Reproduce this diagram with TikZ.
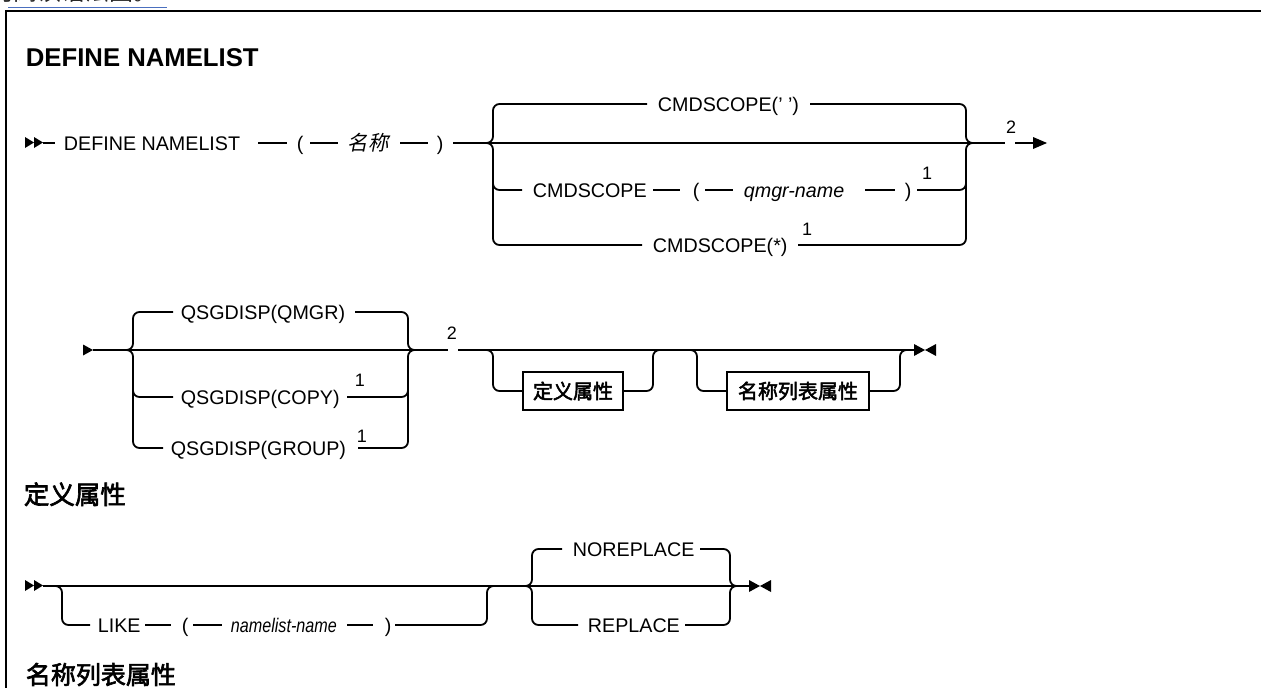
\documentclass[tikz,border=0pt]{standalone}
\usepackage{fontspec}
\setmainfont{Liberation Sans}
\newfontfamily\cjk{Noto Sans CJK SC}
\newfontfamily\cjkit{Noto Sans CJK SC}[FakeSlant=0.2]
\newfontfamily\cjkbf{Noto Sans CJK SC}[FakeBold=2.5]
\newcommand\regf{\fontsize{19.7}{22}\selectfont}
\definecolor{linkblue}{HTML}{4A6FBF}
\tikzset{
  rc/.style={rounded corners=6.5pt},
  tok/.style={anchor=base west, inner sep=0pt, font=\regf},
  itok/.style={anchor=base west, inner sep=0pt, font=\regf\itshape},
  sup/.style={anchor=center, inner sep=0pt, font=\fontsize{18}{20}\selectfont},
  rbox/.style={draw, line width=1.6pt, minimum height=38pt, inner sep=0pt, font=\cjkbf\fontsize{20}{22}\selectfont},
  head/.style={anchor=base west, inner sep=0pt},
  tip/.style={fill=black, draw=none}
}
\begin{document}
\begin{tikzpicture}[x=1pt, y=-1pt, line width=1.8pt]
\useasboundingbox (0,0) rectangle (1261,688);
\clip (0,0) rectangle (1261,688);

% clipped link text at top
\node[head, font=\cjk\fontsize{24}{24}\selectfont, text=black!85] (lnk) at (-11,1) {何阅读语法图。};
\draw[linkblue, line width=1pt] (8,7) -- (167,7);

% frame
\draw[line width=2.6pt] (6,720) -- (6,11) -- (1280,11);

% title
\node[head, font=\bfseries\fontsize{25.7}{28}\selectfont] (title) at (25,66) {DEFINE NAMELIST};

% ---------------- Row 1 ----------------
\fill[tip] (25,137) -- (34,142.5) -- (25,148) -- cycle;
\fill[tip] (34,137) -- (43,142.5) -- (34,148) -- cycle;
\draw (43,143) -- (55,143);
\node[tok] (dn) at (63,150) {DEFINE NAMELIST};
\draw (258,143) -- (287,143);
\node[tok] (lp1) at (296,150) {(};
\draw (310,143) -- (338,143);
\node[anchor=base west, inner sep=0pt, font=\cjkit\fontsize{20.5}{22}\selectfont] (mc) at (347,150.5) {名称};
\draw (400,143) -- (428,143);
\node[tok] (rp1) at (436,150) {)};
\draw (453,143) -- (1005,143);
% top choice
\draw[rc] (485,143) -| (493,104) -- (647,104);
\node[tok] (cs1) at (657,111) {CMDSCOPE(' ')};
\draw[rc] (810,104) -| (966,143) -- (974,143);
% qmgr choice
\draw[rc] (493,172) |- (522,190);
\node[tok] (cs2) at (532,197) {CMDSCOPE};
\draw (653,190) -- (680,190);
\node[tok] (lp2) at (692,197) {(};
\draw (705,190) -- (733,190);
\node[itok] (qn) at (743,197) {qmgr-name};
\draw (865,190) -- (895,190);
\node[tok] (rp2) at (904,197) {)};
\draw[rc] (917,190) -| (966,172);
\node[sup] (n1a) at (927,173) {1};
% star choice
\draw[rc] (485,143) -| (493,245) -- (642,245);
\node[tok] (cs3) at (652,252) {CMDSCOPE(*)};
\node[sup] (n1b) at (807,229) {1};
\draw[rc] (798,245) -| (966,143) -- (974,143);
% end of row 1
\node[sup] (n2a) at (1011,127) {2};
\draw (1015,143) -- (1034,143);
\fill[tip] (1033,137) -- (1047,143) -- (1033,149) -- cycle;

% ---------------- Row 2 ----------------
\fill[tip] (83,344.5) -- (93,350) -- (83,355.5) -- cycle;
\draw (93,350) -- (448,350);
\draw[rc] (126,350) -| (133,312) -- (173,312);
\node[tok] (q1) at (180,319) {QSGDISP(QMGR)};
\draw[rc] (355,312) -| (408,350) -- (415,350);
\draw[rc] (133,382) |- (173,397);
\node[tok] (q2) at (180,404) {QSGDISP(COPY)};
\draw[rc] (347,397) -| (408,382);
\node[sup] (n1c) at (360,380) {1};
\draw[rc] (126,350) -| (133,448) -- (163,448);
\node[tok] (q3) at (170,455) {QSGDISP(GROUP)};
\draw[rc] (358,448) -| (408,350) -- (415,350);
\node[sup] (n1d) at (362,436) {1};
\node[sup] (n2b) at (452,333) {2};
\draw (458,350) -- (916,350);
% optional box 1
\node[rbox, minimum width=100pt] (b1) at (573,391) {定义属性};
\draw[rc] (483,350) -| (493,391) -- (b1.west);
\draw[rc] (b1.east) -| (653,350) -- (660,350);
% optional box 2
\node[rbox, minimum width=142pt] (b2) at (798,391) {名称列表属性};
\draw[rc] (690,350) -| (697,391) -- (b2.west);
\draw[rc] (b2.east) -| (900,350) -- (907,350);
% end
\fill[tip] (914,344) -- (925,350) -- (914,356) -- cycle;
\fill[tip] (936,344) -- (925,350) -- (936,356) -- cycle;

% ---------------- Heading 定义属性 ----------------
\node[head, font=\cjkbf\fontsize{25.5}{28}\selectfont] (h1) at (23,504) {定义属性};

% ---------------- Row 3 ----------------
\fill[tip] (25,580) -- (34,585.5) -- (25,591) -- cycle;
\fill[tip] (34,580) -- (43,585.5) -- (34,591) -- cycle;
\draw (43,586) -- (750,586);
\draw[rc] (53,586) -| (62,625) -- (90,625);
\node[tok] (lk) at (97,632) {LIKE};
\draw (145,625) -- (171,625);
\node[tok] (lp3) at (181,632) {(};
\draw (193,625) -- (222,625);
\node[itok] (nn) at (230,632) {\scalebox{0.82}[1]{namelist-name}};
\draw (347,625) -- (373,625);
\node[tok] (rp3) at (384,632) {)};
\draw[rc] (395,625) -| (487,586) -- (494,586);
\draw[rc] (525,586) -| (532,549) -- (562,549);
\node[tok] (nr) at (572,556) {NOREPLACE};
\draw[rc] (700,549) -| (730,586) -- (737,586);
\draw[rc] (525,586) -| (532,625) -- (578,625);
\node[tok] (rpl) at (587,632) {REPLACE};
\draw[rc] (685,625) -| (730,586) -- (737,586);
\fill[tip] (749,580) -- (760,586) -- (749,592) -- cycle;
\fill[tip] (771,580) -- (760,586) -- (771,592) -- cycle;

% ---------------- Heading 名称列表属性 ----------------
\node[head, font=\cjkbf\fontsize{25}{28}\selectfont] (h2) at (25,684) {名称列表属性};
\end{tikzpicture}
\end{document}
